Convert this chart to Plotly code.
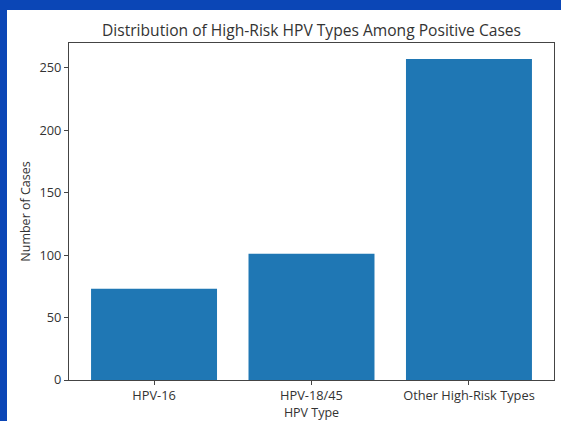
import plotly.graph_objects as go

categories = ["HPV-16", "HPV-18/45", "Other High-Risk Types"]
cases = [73, 101, 257]
y_ticks = [0, 50, 100, 150, 200, 250]

title_text = "Distribution of High-Risk HPV Types Among Positive Cases"
x_title = "HPV Type"
y_title = "Number of Cases"

FONT = "Open Sans"
TXT = "#333333"
W, H = 561, 421
L, R, T, B = 69, 7, 43, 41
PW, PH = W - L - R, H - T - B

fig = go.Figure()
fig.add_trace(go.Bar(
    x=categories, y=cases,
    marker=dict(color="#1f77b4", line=dict(width=0)),
))

# blue slide background strips around the white chart card
fig.add_shape(type="rect", xref="paper", yref="paper",
              x0=(-5 - L) / PW, x1=(7 - L) / PW,
              y0=-1, y1=2,
              fillcolor="#0b46b6", line=dict(width=0), layer="below")
fig.add_shape(type="rect", xref="paper", yref="paper",
              x0=-1, x1=2,
              y0=((T + PH) - 10) / PH, y1=((T + PH) + 5) / PH,
              fillcolor="#0b46b6", line=dict(width=0), layer="below")

fig.update_layout(
    width=W, height=H,
    margin=dict(l=L, r=R, t=T, b=B, autoexpand=False),
    paper_bgcolor="white",
    plot_bgcolor="white",
    showlegend=False,
    bargap=0.2,
    font=dict(family=FONT, color=TXT),
    title=dict(text=title_text, x=(L + (W - R)) / 2 / W, xanchor="center",
               y=1 - 31 / H, yanchor="middle",
               font=dict(family=FONT, size=15.6, color=TXT)),
)
fig.update_xaxes(
    range=[-0.54, 2.54], showgrid=False, zeroline=False,
    showline=True, linecolor="#444444", linewidth=1, mirror=True,
    ticks="outside", ticklen=4, tickcolor="#444444",
    tickfont=dict(family=FONT, size=12.8, color=TXT),
    title=dict(text=x_title, font=dict(family=FONT, size=12.5, color=TXT), standoff=0),
)
fig.update_yaxes(
    range=[0, 269.85], tickvals=y_ticks, showgrid=False, zeroline=False,
    showline=True, linecolor="#444444", linewidth=1, mirror=True,
    ticks="outside", ticklen=4, tickcolor="#444444",
    tickfont=dict(family=FONT, size=12.8, color=TXT),
    title=dict(text=y_title, font=dict(family=FONT, size=12.5, color=TXT), standoff=6),
)

fig.write_html("out.html", config={"displayModeBar": False},
               post_script="document.body.style.margin='0';document.body.style.overflow='hidden';")
